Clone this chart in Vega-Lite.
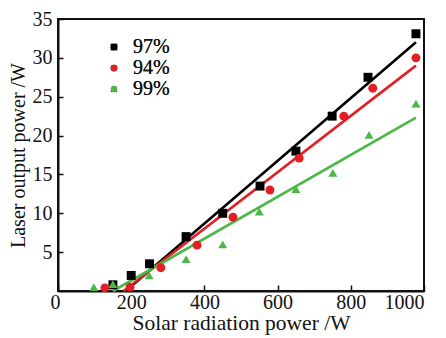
{
  "$schema": "https://vega.github.io/schema/vega-lite/v6.json",
  "width": 366,
  "height": 272,
  "autosize": {"type": "none"},
  "padding": {"left": 58, "top": 19, "right": 22, "bottom": 47},
  "config": {
    "font": "Liberation Serif",
    "view": {"stroke": "#111", "strokeWidth": 2},
    "axis": {"labelFont": "Liberation Serif", "titleFont": "Liberation Serif", "labelColor": "#111", "titleColor": "#111", "domainColor": "#111", "tickColor": "#111", "domainWidth": 2, "tickWidth": 1.5, "grid": false, "titleFontWeight": "normal"}
  },
  "datasets": {
    "pts": [
      {"x": 150, "y": 0.8, "s": "97%"},
      {"x": 200, "y": 2.0, "s": "97%"},
      {"x": 250, "y": 3.5, "s": "97%"},
      {"x": 350, "y": 7.0, "s": "97%"},
      {"x": 450, "y": 10.0, "s": "97%"},
      {"x": 552, "y": 13.5, "s": "97%"},
      {"x": 650, "y": 18.0, "s": "97%"},
      {"x": 749, "y": 22.5, "s": "97%"},
      {"x": 847, "y": 27.5, "s": "97%"},
      {"x": 978, "y": 33.1, "s": "97%"},
      {"x": 128, "y": 0.4, "s": "94%"},
      {"x": 197, "y": 0.5, "s": "94%"},
      {"x": 281, "y": 3.0, "s": "94%"},
      {"x": 380, "y": 5.9, "s": "94%"},
      {"x": 478, "y": 9.5, "s": "94%"},
      {"x": 579, "y": 13.0, "s": "94%"},
      {"x": 659, "y": 17.1, "s": "94%"},
      {"x": 781, "y": 22.5, "s": "94%"},
      {"x": 860, "y": 26.1, "s": "94%"},
      {"x": 978, "y": 30.0, "s": "94%"},
      {"x": 98, "y": 0.5, "s": "99%"},
      {"x": 150, "y": 0.9, "s": "99%"},
      {"x": 249, "y": 2.0, "s": "99%"},
      {"x": 350, "y": 4.1, "s": "99%"},
      {"x": 450, "y": 6.0, "s": "99%"},
      {"x": 550, "y": 10.2, "s": "99%"},
      {"x": 650, "y": 13.1, "s": "99%"},
      {"x": 751, "y": 15.2, "s": "99%"},
      {"x": 850, "y": 20.1, "s": "99%"},
      {"x": 978, "y": 24.1, "s": "99%"}
    ],
    "fits": [
      {"x": 185, "y": 0, "s": "97%"},
      {"x": 978, "y": 32.0, "s": "97%"},
      {"x": 179, "y": 0, "s": "94%"},
      {"x": 978, "y": 29.0, "s": "94%"},
      {"x": 150, "y": 0, "s": "99%"},
      {"x": 978, "y": 22.3, "s": "99%"}
    ]
  },
  "layer": [
    {
      "data": {"name": "fits"},
      "mark": {"type": "line", "strokeWidth": 2.6},
      "encoding": {
        "x": {"field": "x", "type": "quantitative", "scale": {"domain": [0, 1000], "nice": false},
          "axis": {"values": [0, 200, 400, 600, 800, 1000], "format": "d", "title": "Solar radiation power /W", "labelFontSize": 20, "titleFontSize": 21.5, "tickSize": -6, "labelPadding": 7, "labelOffset": {"condition": {"test": "datum.value === 0", "value": -8}, "value": 0}, "titlePadding": 0}},
        "y": {"field": "y", "type": "quantitative", "scale": {"domain": [0, 35], "nice": false},
          "axis": {"values": [5, 10, 15, 20, 25, 30, 35], "title": "Laser output power /W", "labelFontSize": 20, "titleFontSize": 20, "tickSize": -5, "labelPadding": 11, "titlePadding": 4}},
        "color": {"field": "s", "type": "nominal", "scale": {"domain": ["97%", "94%", "99%"], "range": ["#000000", "#e31e24", "#4db848"]}, "legend": null},
        "detail": {"field": "s"}
      }
    },
    {
      "data": {"name": "pts"},
      "mark": {"type": "point", "filled": true, "opacity": 1, "size": 80},
      "encoding": {
        "x": {"field": "x", "type": "quantitative"},
        "y": {"field": "y", "type": "quantitative"},
        "color": {"field": "s", "type": "nominal", "scale": {"domain": ["97%", "94%", "99%"], "range": ["#000000", "#e31e24", "#4db848"]},
          "legend": {"title": null, "orient": "none", "legendX": 46, "legendY": 18, "padding": 0, "labelFontSize": 20, "labelFont": "Liberation Serif", "labelColor": "#111", "symbolSize": 45, "rowPadding": 1, "labelOffset": 9}},
        "shape": {"field": "s", "type": "nominal", "scale": {"domain": ["97%", "94%", "99%"], "range": ["square", "circle", "triangle-up"]},
          "legend": {"title": null, "orient": "none", "legendX": 46, "legendY": 18, "padding": 0, "labelFontSize": 20, "labelFont": "Liberation Serif", "labelColor": "#111", "symbolSize": 45, "rowPadding": 1, "labelOffset": 9}}
      }
    }
  ],
  "resolve": {"scale": {"color": "independent"}}
}
